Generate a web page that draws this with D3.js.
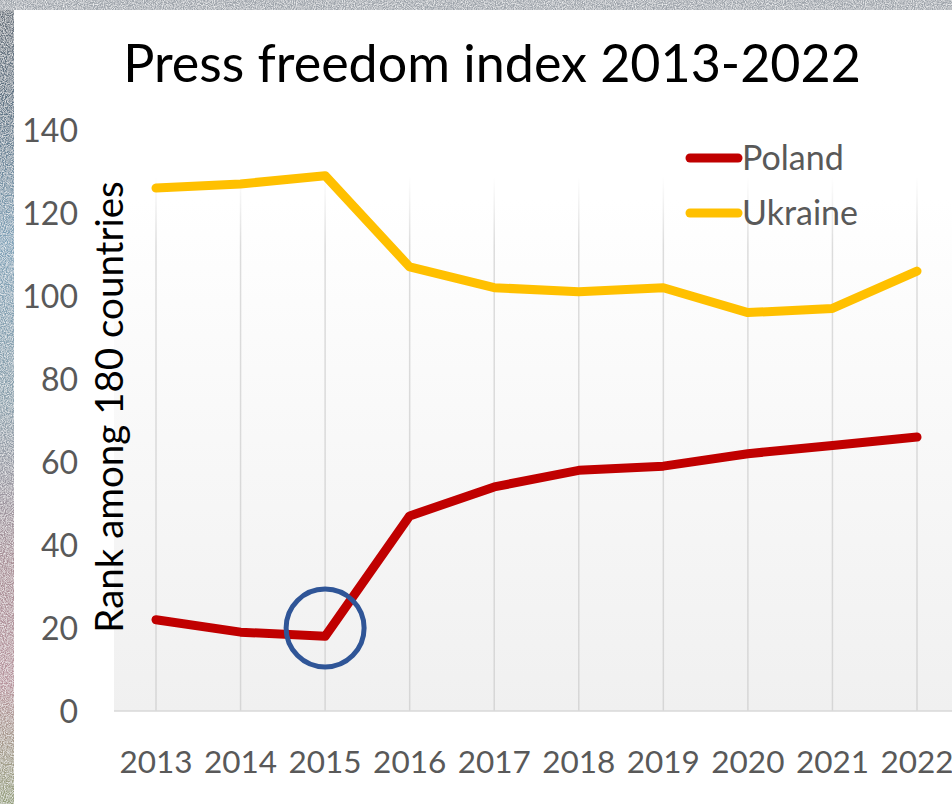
<!DOCTYPE html>
<html>
<head>
<meta charset="utf-8">
<script src="https://cdn.jsdelivr.net/npm/d3@7"></script>
<style>
  html, body { margin: 0; padding: 0; background: #fff; }
  svg { display: block; }
</style>
</head>
<body>
<svg id="chart" width="952" height="804"></svg>
<script>
// Press freedom ranks (RSF), position among 180 countries
const years = ["2013", "2014", "2015", "2016", "2017", "2018", "2019", "2020", "2021", "2022"];
const poland = [22, 19, 18, 47, 54, 58, 59, 62, 64, 66];
const ukraine = [126, 127, 129, 107, 102, 101, 102, 96, 97, 106];
const yTicks = [0, 20, 40, 60, 80, 100, 120, 140];
const seriesNames = ["Poland", "Ukraine"];
const seriesColors = ["#c00000", "#ffc000"];
const highlight = { year: "2015", value: 20 };

const svg = d3.select("#chart");
const W = 952, H = 804;
const defs = svg.append("defs");

// Grainy backdrop around the chart panel
const noise = defs.append("filter").attr("id", "grain")
  .attr("x", 0).attr("y", 0).attr("width", "100%").attr("height", "100%");
noise.append("feTurbulence").attr("type", "fractalNoise")
  .attr("baseFrequency", 0.9).attr("numOctaves", 2).attr("seed", 4).attr("result", "n");
noise.append("feColorMatrix").attr("in", "n").attr("type", "matrix")
  .attr("values", "0 0 0 0 1  0 0 0 0 1  0 0 0 0 1  0 0 0 1.6 -0.55").attr("result", "w");
noise.append("feComposite").attr("in", "w").attr("in2", "SourceGraphic").attr("operator", "atop");

const sideGrad = defs.append("linearGradient").attr("id", "sideGrad")
  .attr("x1", 0).attr("y1", 0).attr("x2", 0).attr("y2", 1);
[[0, "#6b737c"], [0.12, "#5f7384"], [0.3, "#7fa2b8"], [0.5, "#8aa0ac"],
 [0.7, "#a98f97"], [0.85, "#b8959e"], [1, "#95a07c"]]
  .forEach(([o, c]) => sideGrad.append("stop").attr("offset", o).attr("stop-color", c));

svg.append("rect").attr("x", 0).attr("y", 0).attr("width", 14).attr("height", H)
  .attr("fill", "url(#sideGrad)").attr("filter", "url(#grain)");
svg.append("rect").attr("x", 0).attr("y", 0).attr("width", W).attr("height", 10)
  .attr("fill", "#9ea4ab").attr("filter", "url(#grain)");
svg.append("rect").attr("x", 14).attr("y", 10).attr("width", W - 14).attr("height", H - 10)
  .attr("fill", "#ffffff");

// Scales
const x = d3.scalePoint().domain(years).range([156, 917]);
const y = d3.scaleLinear().domain([0, 140]).range([711, 130]);
const plotLeft = 114, plotRight = W;

// Plot area with soft vertical fade
const bgGrad = defs.append("linearGradient").attr("id", "plotBg")
  .attr("gradientUnits", "userSpaceOnUse")
  .attr("x1", 0).attr("y1", y(140)).attr("x2", 0).attr("y2", y(0));
bgGrad.append("stop").attr("offset", 0).attr("stop-color", "#ffffff");
bgGrad.append("stop").attr("offset", 0.12).attr("stop-color", "#ffffff");
bgGrad.append("stop").attr("offset", 1).attr("stop-color", "#f0f0f0");
svg.append("rect").attr("x", plotLeft).attr("y", y(140))
  .attr("width", plotRight - plotLeft).attr("height", y(0) - y(140))
  .attr("fill", "url(#plotBg)");

const gridGrad = defs.append("linearGradient").attr("id", "gridFade")
  .attr("gradientUnits", "userSpaceOnUse")
  .attr("x1", 0).attr("y1", y(140)).attr("x2", 0).attr("y2", y(0));
gridGrad.append("stop").attr("offset", 0).attr("stop-color", "#ffffff");
gridGrad.append("stop").attr("offset", 0.08).attr("stop-color", "#ffffff");
gridGrad.append("stop").attr("offset", 0.2).attr("stop-color", "#dcdcdc");
gridGrad.append("stop").attr("offset", 1).attr("stop-color", "#d6d6d6");

// Vertical category gridlines
svg.append("g").selectAll("line").data(years).join("line")
  .attr("x1", d => x(d)).attr("x2", d => x(d))
  .attr("y1", y(140)).attr("y2", y(0))
  .attr("stroke", "url(#gridFade)").attr("stroke-width", 1.5);

// Horizontal axis line
svg.append("line").attr("x1", plotLeft).attr("x2", plotRight)
  .attr("y1", y(0)).attr("y2", y(0))
  .attr("stroke", "#d9d9d9").attr("stroke-width", 1.5);

const font = "Lato, 'Open Sans', sans-serif";

// Value axis labels
svg.append("g").selectAll("text").data(yTicks).join("text")
  .attr("x", 78).attr("y", d => y(d))
  .attr("dy", "0.36em")
  .attr("text-anchor", "end")
  .attr("font-family", font).attr("font-size", 32).attr("fill", "#595959")
  .text(d => d);

// Category axis labels
svg.append("g").selectAll("text").data(years).join("text")
  .attr("x", d => x(d)).attr("y", 773)
  .attr("text-anchor", "middle")
  .attr("font-family", font).attr("font-size", 31.5).attr("fill", "#595959")
  .text(d => d);

// Axis title
svg.append("text")
  .attr("transform", "translate(123,407) rotate(-90)")
  .attr("text-anchor", "middle")
  .attr("font-family", font).attr("font-size", 38.5).attr("fill", "#000")
  .text("Rank among 180 countries");

// Title
svg.append("text")
  .attr("x", 492).attr("y", 82)
  .attr("text-anchor", "middle")
  .attr("font-family", font).attr("font-size", 52).attr("fill", "#000")
  .text("Press freedom index 2013-2022");

// Series lines
const line = d3.line().x((d, i) => x(years[i])).y(d => y(d));
[poland, ukraine].forEach((vals, k) => {
  svg.append("path").datum(vals)
    .attr("d", line)
    .attr("fill", "none")
    .attr("stroke", seriesColors[k])
    .attr("stroke-width", 9)
    .attr("stroke-linecap", "round")
    .attr("stroke-linejoin", "round");
});

// Legend
const legend = svg.append("g");
seriesNames.forEach((name, k) => {
  const ly = 158 + k * 55;
  legend.append("line").attr("x1", 690).attr("x2", 738).attr("y1", ly).attr("y2", ly)
    .attr("stroke", seriesColors[k]).attr("stroke-width", 9).attr("stroke-linecap", "round");
  legend.append("text").attr("x", 742).attr("y", ly).attr("dy", "0.36em")
    .attr("font-family", font).attr("font-size", 34).attr("fill", "#595959")
    .text(name);
});

// Highlight ring on the 2015 low point
svg.append("circle")
  .attr("cx", x(highlight.year)).attr("cy", y(highlight.value))
  .attr("r", 39)
  .attr("fill", "none").attr("stroke", "#2f5597").attr("stroke-width", 5);
</script>
</body>
</html>
